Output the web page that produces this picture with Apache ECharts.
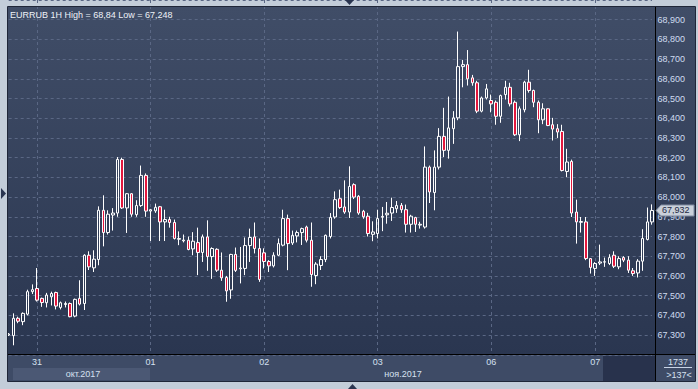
<!DOCTYPE html>
<html><head><meta charset="utf-8">
<script src="https://cdn.jsdelivr.net/npm/echarts@6/dist/echarts.min.js"></script>
<style>html,body{margin:0;padding:0;background:#c3cdd9;overflow:hidden}#c{width:698px;height:389px}</style>
</head><body><div id="c"></div><script>
const symbolName = 'EURRUB';
const timeframe = '1H';
const dayLabels   = ['30','31','01','02','03','06','07'];
const dayMonths   = ['10','10','11','11','11','11','11'];
const dayFirstHour= [18,0,0,0,0,2,0];
const dayBarCounts= [6,24,24,24,24,22,13];
const monthLabels = ['окт.2017','ноя.2017'];
const barsTotal = '1737';
const barsVisible = '>137<';
const yMin = 67.2, yMax = 69.0, yStep = 0.1;

const opens = [67.300,67.297,67.385,67.368,67.406,67.520,67.536,67.486,67.464,67.494,
67.516,67.440,67.455,67.460,67.396,67.486,67.460,67.705,67.641,67.683,
67.933,67.820,67.909,67.919,68.191,67.945,68.017,67.911,67.957,68.110,
67.929,67.930,67.951,67.874,67.886,67.871,67.786,67.778,67.781,67.737,
67.769,67.719,67.798,67.698,67.735,67.629,67.592,67.529,67.709,67.636,
67.638,67.754,67.798,67.739,67.717,67.673,67.651,67.705,67.756,67.891,
67.767,67.803,67.820,67.848,67.781,67.602,67.653,67.683,67.800,67.899,
67.992,67.950,67.924,68.063,68.004,67.928,67.903,67.811,67.815,67.898,
67.910,67.919,67.941,67.958,67.936,67.862,67.896,67.858,67.848,68.152,
68.023,68.152,68.308,68.237,68.347,68.402,68.662,68.672,68.605,68.580,
68.436,68.503,68.490,68.481,68.410,68.520,68.557,68.481,68.316,68.443,
68.583,68.541,68.481,68.392,68.448,68.367,68.347,68.333,68.130,68.181,
67.924,67.872,67.874,67.688,67.638,67.665,67.670,67.663,67.705,67.646,
67.693,67.680,67.626,67.615,67.675,67.785,67.874];
const closes = [67.305,67.385,67.370,67.410,67.520,67.530,67.477,67.465,67.503,67.511,
67.447,67.464,67.460,67.393,67.481,67.457,67.705,67.646,67.685,67.933,
67.820,67.913,67.919,68.191,67.945,68.017,67.913,67.957,68.110,67.929,
67.936,67.948,67.874,67.886,67.871,67.790,67.790,67.782,67.734,67.776,
67.719,67.798,67.698,67.739,67.629,67.590,67.524,67.709,67.628,67.640,
67.754,67.795,67.739,67.582,67.673,67.651,67.705,67.764,67.891,67.764,
67.806,67.820,67.840,67.781,67.607,67.660,67.683,67.806,67.897,67.987,
67.947,67.924,68.054,68.000,67.919,67.900,67.815,67.823,67.891,67.902,
67.918,67.947,67.957,67.936,67.862,67.903,67.862,67.862,68.152,68.026,
68.152,68.308,68.237,68.351,68.402,68.662,68.672,68.600,68.580,68.436,
68.503,68.549,68.473,68.410,68.515,68.557,68.473,68.316,68.448,68.583,
68.541,68.481,68.392,68.448,68.363,68.345,68.330,68.135,68.178,67.919,
67.874,67.876,67.688,67.643,67.663,67.671,67.672,67.693,67.649,67.688,
67.680,67.629,67.612,67.675,67.790,67.874,67.932];
const lows = [67.295,67.248,67.360,67.350,67.400,67.508,67.470,67.443,67.440,67.450,
67.430,67.430,67.440,67.390,67.390,67.450,67.427,67.630,67.620,67.654,
67.750,67.810,67.830,67.900,67.940,67.818,67.900,67.900,67.950,67.900,
67.777,67.920,67.777,67.777,67.845,67.785,67.756,67.770,67.730,67.705,
67.604,67.671,67.626,67.585,67.620,67.575,67.469,67.484,67.620,67.562,
67.604,67.671,67.714,67.570,67.638,67.620,67.643,67.700,67.750,67.629,
67.757,67.770,67.757,67.770,67.545,67.558,67.630,67.670,67.790,67.890,
67.940,67.915,67.894,67.990,67.910,67.890,67.800,67.776,67.790,67.827,
67.865,67.879,67.920,67.920,67.820,67.820,67.823,67.840,67.840,67.970,
67.933,68.140,68.203,68.195,68.270,68.390,68.557,68.566,68.565,68.426,
68.430,68.495,68.430,68.367,68.377,68.495,68.460,68.310,68.284,68.430,
68.530,68.456,68.324,68.370,68.360,68.287,68.300,68.130,68.101,67.899,
67.764,67.820,67.680,67.612,67.600,67.655,67.646,67.655,67.640,67.634,
67.670,67.615,67.600,67.592,67.626,67.780,67.860];
const highs = [67.310,67.410,67.393,67.415,67.530,67.557,67.640,67.490,67.514,67.520,
67.520,67.470,67.470,67.465,67.485,67.578,67.710,67.725,67.730,67.953,
68.009,67.933,67.944,68.203,68.200,68.020,68.020,67.984,68.160,68.120,
67.940,67.967,67.955,67.936,67.900,67.886,67.826,67.810,67.800,67.822,
67.845,67.810,67.882,67.745,67.740,67.719,67.600,67.712,67.744,67.747,
67.795,67.840,67.871,67.790,67.740,67.680,67.720,67.790,67.936,67.911,
67.830,67.830,67.845,67.855,67.871,67.670,67.700,67.810,67.919,68.029,
68.038,68.085,68.156,68.070,68.010,67.935,67.920,67.877,67.936,67.950,
67.975,67.997,67.980,67.970,67.962,67.910,67.900,67.875,68.257,68.160,
68.237,68.350,68.453,68.510,68.436,68.840,68.696,68.746,68.620,68.590,
68.510,68.574,68.520,68.490,68.520,68.590,68.580,68.490,68.460,68.590,
68.646,68.545,68.490,68.476,68.450,68.402,68.370,68.367,68.245,68.190,
67.987,67.899,67.899,67.690,67.670,67.759,67.693,67.710,67.725,67.700,
67.700,67.700,67.640,67.685,67.837,67.947,67.963];

// categories (hourly stamps) and first bar of each day
const categories = [];
const dayStartSet = new Set();
dayLabels.forEach((d, k) => {
  if (k > 0) dayStartSet.add(categories.length);
  for (let h = 0; h < dayBarCounts[k]; h++) {
    categories.push(d + '.' + dayMonths[k] + ' ' + String(dayFirstHour[k] + h).padStart(2, '0') + ':00');
  }
});
const ohlc = opens.map((o, i) => [o, closes[i], lows[i], highs[i]]);
const fmt = v => String(v).replace('.', ',');
const FF = '"Liberation Sans", Arial, sans-serif';

const chart = echarts.init(document.getElementById('c'), null, {renderer: 'svg'});
const option = {
  animation: false,
  backgroundColor: '#c3cdd9',
  title: {
    text: symbolName + ' ' + timeframe + ' High = ' + fmt(Math.max(...highs)) + ' Low = ' + fmt(Math.min(...lows)),
    left: 10, top: 10, padding: 0,
    textStyle: {color: '#eef2f8', fontSize: 9, fontWeight: 'normal', fontFamily: FF}
  },
  grid: {left: 8.7, right: 46, top: -0.75, bottom: 34.25},
  xAxis: {
    type: 'category', data: categories, boundaryGap: false,
    axisLine: {show: false}, axisTick: {show: false},
    axisLabel: {
      interval: (i) => dayStartSet.has(i),
      formatter: (v) => v.slice(0, 2),
      color: '#d5e0f0', fontSize: 9, fontFamily: FF, margin: 3
    },
    splitLine: {show: true, interval: (i) => dayStartSet.has(i),
      lineStyle: {color: '#5a6784', type: [3, 3], width: 1}}
  },
  yAxis: {
    type: 'value', position: 'right', min: yMin, max: yMax, interval: yStep,
    axisLine: {show: false}, axisTick: {show: false},
    axisLabel: {
      showMinLabel: false, showMaxLabel: false,
      formatter: v => v.toFixed(3).replace('.', ','),
      color: '#cfdcf0', fontSize: 9, fontFamily: FF, margin: 5.5
    },
    splitLine: {show: true, lineStyle: {color: '#5a6784', type: [3, 3], width: 1}}
  },
  series: [{
    type: 'candlestick', data: ohlc, barWidth: 3, clip: false,
    itemStyle: {color: 'transparent', color0: '#e3173d', borderColor: '#ffffff', borderColor0: '#ffffff', borderWidth: 1}
  }]
};
chart.setOption(option);

const lastClose = closes[closes.length - 1];
const ty = chart.convertToPixel({yAxisIndex: 0}, lastClose);

const grad = new echarts.graphic.LinearGradient(0, 0, 0, 1, [
  {offset: 0, color: '#404d67'}, {offset: 1, color: '#2a3650'}]);
const Z = 100;
chart.setOption({
  graphic: [
    {type: 'rect', z: -10, silent: true, shape: {x: 8, y: 7, width: 687, height: 348}, style: {fill: grad}},
    {type: 'rect', z: -10, silent: true, shape: {x: 8, y: 355, width: 687, height: 26}, style: {fill: '#3e4b66'}},
    {type: 'rect', z: -9, silent: true, shape: {x: 13, y: 368, width: 137, height: 12}, style: {fill: '#4b5874'}},
    {type: 'rect', z: -9, silent: true, shape: {x: 603, y: 356, width: 52, height: 25}, style: {fill: '#28324c'}},
    {type: 'rect', z: Z, silent: true, shape: {x: 0, y: 0, width: 8, height: 389}, style: {fill: '#c3cdd9'}},
    {type: 'rect', z: Z, silent: true, shape: {x: 7.5, y: 6.5, width: 688, height: 375}, style: {fill: 'none', stroke: '#1f2638', lineWidth: 1}},
    {type: 'line', z: Z, silent: true, shape: {x1: 655.5, y1: 7, x2: 655.5, y2: 381}, style: {stroke: '#000000', lineWidth: 1}},
    {type: 'line', z: Z, silent: true, shape: {x1: 8, y1: 354.5, x2: 695, y2: 354.5}, style: {stroke: '#000000', lineWidth: 1}},
    {type: 'line', z: Z, silent: true, shape: {x1: 664, y1: 367.5, x2: 692, y2: 367.5}, style: {stroke: '#c8d4e6', lineWidth: 1}},
    {type: 'text', z: Z, silent: true, x: 83, y: 374, style: {text: monthLabels[0], fill: '#d5e0f0', font: '9px ' + FF, textAlign: 'center', textVerticalAlign: 'middle'}},
    {type: 'text', z: Z, silent: true, x: 403, y: 374, style: {text: monthLabels[1], fill: '#d5e0f0', font: '9px ' + FF, textAlign: 'center', textVerticalAlign: 'middle'}},
    {type: 'text', z: Z, silent: true, x: 678, y: 362, style: {text: barsTotal, fill: '#d5e0f0', font: '9px ' + FF, textAlign: 'center', textVerticalAlign: 'middle'}},
    {type: 'text', z: Z, silent: true, x: 679, y: 375, style: {text: barsVisible, fill: '#d5e0f0', font: '9px ' + FF, textAlign: 'center', textVerticalAlign: 'middle'}},
    {type: 'polygon', z: Z, silent: true, shape: {points: [[345, 0], [354, 0], [349.5, 5]]}, style: {fill: '#2a3550'}},
    {type: 'polygon', z: Z, silent: true, shape: {points: [[348, 389], [357, 389], [352.5, 384]]}, style: {fill: '#2a3550'}},
    {type: 'polygon', z: Z, silent: true, shape: {points: [[1, 188], [1, 199], [6, 193.5]]}, style: {fill: '#2a3550'}},
    {type: 'polygon', z: Z + 1, silent: true, shape: {points: [[656, ty], [661, ty - 5.5], [694, ty - 5.5], [694, ty + 5.5], [661, ty + 5.5]]}, style: {fill: '#c9d0da', stroke: '#7f8ba0', lineWidth: 1}},
    {type: 'text', z: Z + 2, silent: true, x: 662, y: ty, style: {text: fmt(lastClose), fill: '#1e2a44', font: '9px ' + FF, textAlign: 'left', textVerticalAlign: 'middle'}}
  ]
});
</script></body></html>
